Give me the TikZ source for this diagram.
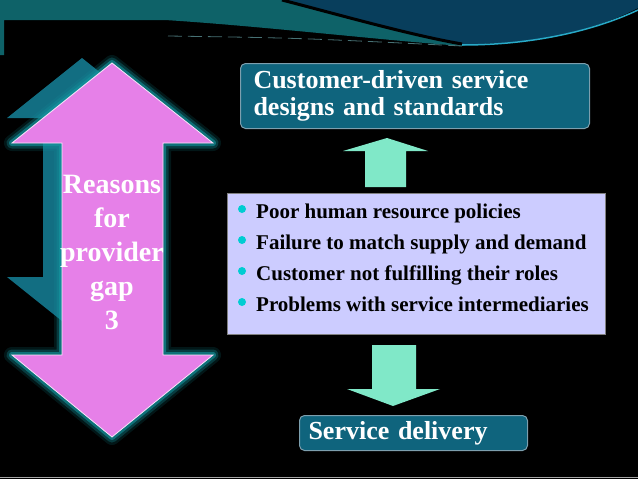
\documentclass[tikz,border=0pt]{standalone}
\usepackage{fontspec}
\setmainfont{Liberation Serif}
\usetikzlibrary{positioning}
\definecolor{bandteal}{RGB}{14,98,104}
\definecolor{banddark}{RGB}{8,62,92}
\definecolor{edgecyan}{RGB}{40,170,200}
\definecolor{glowteal}{RGB}{20,150,160}
\definecolor{shadteal}{RGB}{18,110,130}
\definecolor{gappink}{RGB}{230,128,232}
\definecolor{boxteal}{RGB}{15,100,125}
\definecolor{listfill}{RGB}{204,204,255}
\definecolor{aqua}{RGB}{128,232,200}
\definecolor{dotcyan}{RGB}{0,204,210}
\begin{document}
\begin{tikzpicture}[x=1pt,y=-1pt]
\tikzstyle{every node}=[inner sep=0pt]
\tikzstyle{headbox}=[draw=gray!70!cyan, line width=1pt, fill=boxteal, rounded corners=5pt,
  anchor=north west, text=white, align=left, inner xsep=12pt,
  font=\bfseries\fontsize{26}{27}\selectfont]
\tikzstyle{item}=[anchor=base west, font=\bfseries\fontsize{21}{23}\selectfont]
\tikzstyle{blockarrow}=[fill=aqua]
\useasboundingbox (0,0) rectangle (638,479);
\fill[black] (0,0) rectangle (638,479);
% top band
\fill[bandteal] (0,0) -- (638,0) -- (638,8) -- (462,46) .. controls (380,40) and (260,26) .. (165,20)
  -- (4,20) -- (4,55) -- (0,55) -- cycle;
\fill[banddark] (282,0) .. controls (340,15) and (410,35) .. (462,44)
  .. controls (540,45) and (600,28) .. (638,8) -- (638,0) -- cycle;
\draw[black, line width=3pt] (282,0) .. controls (340,15) and (410,35) .. (462,44);
\draw[edgecyan, line width=1.5pt] (462,45) .. controls (540,45) and (600,28) .. (638,10);
\draw[gray!50!bandteal, line width=0.8pt, dash pattern=on 14pt off 6pt] (168,36) .. controls (300,38) .. (462,46);
\draw[gray!70, line width=1.5pt] (0,477.5) -- (638,477.5);
%
% double arrow, left
\fill[shadteal] (82,58) -- (157,118) -- (121,118) -- (121,277) -- (157,277) -- (82,337)
  -- (7,277) -- (43,277) -- (43,118) -- (7,118) -- cycle;
\foreach \w/\o in {16/0.15, 11/0.3, 6/0.6}
  \draw[glowteal, line width=\w pt, line join=round, opacity=\o]
    (112,63) -- (213,143) -- (163,143) -- (163,355) -- (213,355) -- (112,437)
    -- (12,355) -- (62,355) -- (62,143) -- (12,143) -- cycle;
\draw[white!80!gappink, line width=0.8pt, fill=gappink]
  (112,63) -- (213,143) -- (163,143) -- (163,355) -- (213,355) -- (112,437)
  -- (12,355) -- (62,355) -- (62,143) -- (12,143) -- cycle;
\node[text=white, align=center, font=\bfseries\fontsize{28}{34}\selectfont] (gap) at (112,252)
  {Reasons\\for\\provider\\gap\\3};
%
% boxes
\node[headbox, minimum width=349pt, minimum height=65pt, text width=323pt] (design) at (240,63)
  {Customer-driven service\\designs and standards};
\node[draw=gray, fill=listfill, anchor=north west, minimum width=378pt, minimum height=141pt] (list) at (227,193) {};
\foreach \txt [count=\i] in {Poor human resource policies, Failure to match supply and demand,
    Customer not fulfilling their roles, Problems with service intermediaries}
{
  \fill[dotcyan] (242,{209+31*(\i-1)}) circle (4pt);
  \node[item] (item\i) at (256,{218+31*(\i-1)}) {\txt};
}
\node[headbox, minimum width=228pt, minimum height=35pt, text width=210pt, inner xsep=9pt] (delivery) at (299,415)
  {Service delivery};
%
% arrows between boxes
\fill[blockarrow] (365,187) -- (365,151) -- (343,151) -- (387,138) -- (428,151) -- (406,151) -- (406,187) -- cycle;
\fill[blockarrow] (372,345) -- (416,345) -- (416,389) -- (440,389) -- (393,406) -- (347,389) -- (372,389) -- cycle;
\end{tikzpicture}
\end{document}
